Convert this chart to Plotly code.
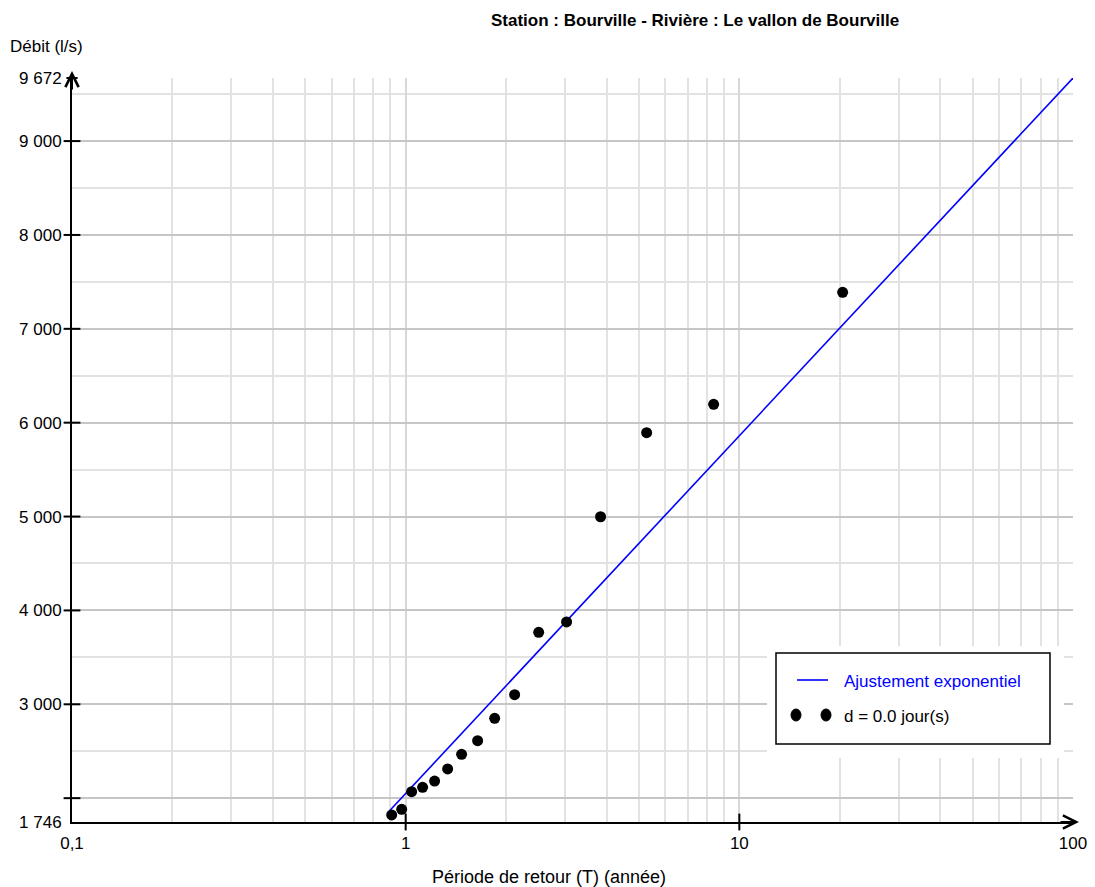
import plotly.graph_objects as go

# ---- data ----
return_period = [0.908, 0.973, 1.042, 1.124, 1.221, 1.336, 1.471, 1.643,
                 1.848, 2.121, 2.504, 3.036, 3.838, 5.275, 8.375, 20.4]
discharge = [1821, 1881, 2069, 2116, 2182, 2311, 2467, 2612,
             2851, 3102, 3767, 3877, 4998, 5893, 6196, 7389]

fit_T = [0.895, 100]
fit_Q = [1866, 9672]

y_tickvals = [1746, 2000, 3000, 4000, 5000, 6000, 7000, 8000, 9000, 9672]
y_ticktext = ["1 746", "", "3 000", "4 000", "5 000", "6 000", "7 000", "8 000", "9 000", "9 672"]
x_tickvals = [0.1, 1, 10, 100]
x_ticktext = ["0,1", "1", "10", "100"]

title_text = "Station : Bourville - Rivière : Le vallon de Bourville"
y_title = "Débit (l/s)"
x_title = "Période de retour (T) (année)"
legend_fit = "Ajustement exponentiel"
legend_pts = "d = 0.0 jour(s)"

FONT = "Liberation Sans, Arial, Helvetica, sans-serif"

fig = go.Figure()

fig.add_trace(go.Scatter(x=fit_T, y=fit_Q, mode="lines",
                         line=dict(color="#0000ff", width=1.6),
                         showlegend=False, hoverinfo="skip"))
fig.add_trace(go.Scatter(x=return_period, y=discharge, mode="markers",
                         marker=dict(color="black", size=11, symbol="circle"),
                         showlegend=False, cliponaxis=False))

# crossing tick marks on y axis
fig.add_trace(go.Scatter(x=[0.1] * len(y_tickvals[1:-1]), y=y_tickvals[1:-1], mode="markers",
                         marker=dict(symbol="line-ew-open", size=12, color="black",
                                     line=dict(color="black", width=2)),
                         showlegend=False, hoverinfo="skip", cliponaxis=False))
fig.add_trace(go.Scatter(x=[0.1], y=[y_tickvals[-1]], mode="markers",
                         marker=dict(symbol="line-ew-open", size=8, color="black",
                                     line=dict(color="black", width=2)),
                         showlegend=False, hoverinfo="skip", cliponaxis=False))
# crossing tick marks on x axis
fig.add_trace(go.Scatter(x=x_tickvals[1:3], y=[1746] * 2, mode="markers",
                         marker=dict(symbol="line-ns-open", size=12, color="black",
                                     line=dict(color="black", width=2)),
                         showlegend=False, hoverinfo="skip", cliponaxis=False))

fig.update_xaxes(type="log", range=[-1, 2], automargin=False,
                 tickvals=x_tickvals, ticktext=x_ticktext,
                 showgrid=True, gridcolor="#d8d8d8", gridwidth=1.5,
                 minor=dict(dtick="D1", showgrid=True, gridcolor="#e2e2e2", gridwidth=1.5, ticklen=0),
                 showline=True, linecolor="black", linewidth=2,
                 ticks="", ticklabelstandoff=5,
                 zeroline=False,
                 tickfont=dict(family=FONT, size=17, color="black"))
fig.update_yaxes(range=[1746, 9672], automargin=False,
                 tickvals=y_tickvals, ticktext=y_ticktext,
                 showgrid=True, gridcolor="#c6c6c6", gridwidth=1.5,
                 minor=dict(tickmode="linear", tick0=0, dtick=500, showgrid=True,
                            gridcolor="#e2e2e2", gridwidth=1.5, ticklen=0),
                 showline=True, linecolor="black", linewidth=2,
                 ticks="", ticklabelstandoff=5,
                 zeroline=False,
                 tickfont=dict(family=FONT, size=17, color="black"))

L, R, T, B = 72, 22, 78, 65
W, H = 1095, 887
pw, ph = W - L - R, H - T - B


def px(xp):
    return (xp - L) / pw


def py(yp):
    return (H - B - yp) / ph


shapes = [
    # white padding around legend
    dict(type="rect", xref="paper", yref="paper", layer="above",
         x0=px(767), x1=px(1064), y0=py(758), y1=py(646),
         fillcolor="white", line=dict(width=0)),
    dict(type="rect", xref="paper", yref="paper", layer="above",
         x0=px(776), x1=px(1050), y0=py(744), y1=py(653),
         fillcolor="white", line=dict(color="black", width=1.5)),
    dict(type="line", xref="paper", yref="paper", layer="above",
         x0=px(797), x1=px(828), y0=py(680), y1=py(680),
         line=dict(color="#0000ff", width=1.6)),
]
for cx in (796, 826):
    shapes.append(dict(type="circle", xref="paper", yref="paper", layer="above",
                       xsizemode="pixel", ysizemode="pixel",
                       xanchor=px(cx), yanchor=py(715),
                       x0=-5, x1=5, y0=-6, y1=6,
                       fillcolor="black", line=dict(color="black", width=1)))

annotations = [
    dict(text=title_text, xref="paper", yref="paper", x=px(695), y=py(20),
         xanchor="center", yanchor="middle", showarrow=False,
         font=dict(family=FONT, size=17, color="black", weight="bold")),
    dict(text=y_title, xref="paper", yref="paper", x=px(46), y=py(47),
         xanchor="center", yanchor="middle", showarrow=False,
         font=dict(family=FONT, size=17, color="black")),
    dict(text=x_title, xref="paper", yref="paper", x=px(549), y=py(877),
         xanchor="center", yanchor="middle", showarrow=False,
         font=dict(family=FONT, size=18, color="black")),
    dict(text=legend_fit, xref="paper", yref="paper", x=px(842), y=py(681),
         xanchor="left", yanchor="middle", showarrow=False,
         font=dict(family=FONT, size=17, color="#0000ff")),
    dict(text=legend_pts, xref="paper", yref="paper", x=px(842), y=py(716),
         xanchor="left", yanchor="middle", showarrow=False,
         font=dict(family=FONT, size=17, color="black")),
    # axis arrows
    dict(text="", xref="paper", yref="paper", x=px(1079), y=0,
         ax=-20, ay=0, showarrow=True, arrowhead=5, arrowsize=1.3,
         arrowwidth=2, arrowcolor="black"),
    dict(text="", xref="paper", yref="paper", x=0, y=py(71),
         ax=0, ay=20, showarrow=True, arrowhead=5, arrowsize=1.3,
         arrowwidth=2, arrowcolor="black"),
]

fig.update_layout(width=W, height=H,
                  margin=dict(l=L, r=R, t=T, b=B, pad=0, autoexpand=False),
                  paper_bgcolor="white", plot_bgcolor="white",
                  showlegend=False,
                  shapes=shapes, annotations=annotations,
                  font=dict(family=FONT, size=17, color="black"))

fig.write_html("out.html")
